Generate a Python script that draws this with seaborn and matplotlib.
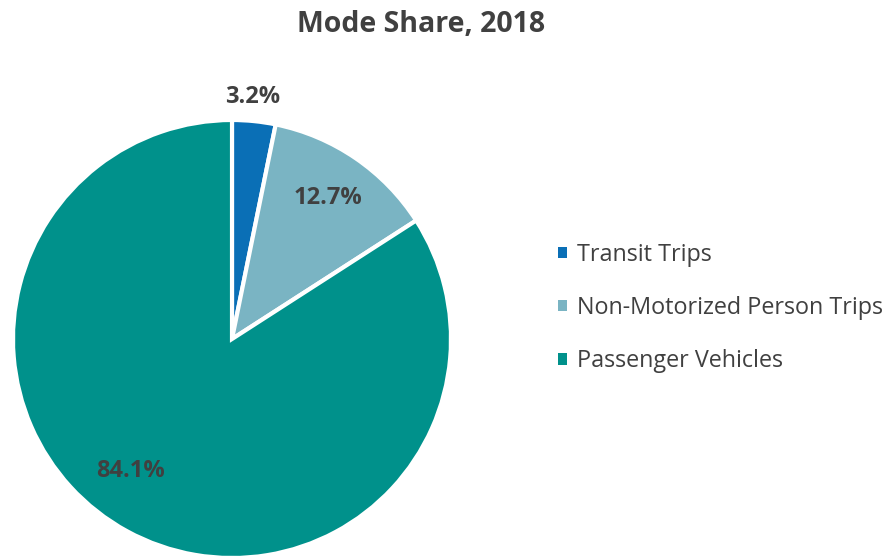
import numpy as np
import seaborn as sns
import matplotlib.pyplot as plt

# data
modes = ["Transit Trips", "Non-Motorized Person Trips", "Passenger Vehicles"]
shares = [3.2, 12.7, 84.1]
colors = ["#0a6fb6", "#7ab4c3", "#00918b"]
# label placement: radius (fraction of pie) and small angle nudge in degrees
label_radius = [1.11, 0.78, 0.76]
label_nudge = [1.0, 0.0, -9.0]

sns.set_theme(style="white")
plt.rcParams["font.family"] = ["Open Sans", "DejaVu Sans"]
text_color = "#404040"

fig = plt.figure(figsize=(8.91, 5.57), dpi=100)
W, H = 891, 557
cx, cy, r = 232, 339, 219
ax = fig.add_axes([(cx - r) / W, (H - cy - r) / H, 2 * r / W, 2 * r / H])

wedges, _ = ax.pie(shares, colors=colors, startangle=90, counterclock=False,
                   radius=1, wedgeprops=dict(edgecolor="white", linewidth=3))
ax.set_xlim(-1, 1)
ax.set_ylim(-1, 1)
ax.set_aspect("equal")
ax.axis("off")

for w, s, rr, nd in zip(wedges, shares, label_radius, label_nudge):
    ang = np.deg2rad((w.theta1 + w.theta2) / 2 + nd)
    ax.text(rr * np.cos(ang), rr * np.sin(ang), f"{s}%", ha="center", va="center",
            fontsize=17, fontweight="bold", color=text_color)

fig.text(421 / W, 1 - 24 / H, "Mode Share, 2018", ha="center", va="center",
         fontsize=20.5, fontweight="bold", color=text_color)

leg = fig.legend(wedges, modes, loc="center left", bbox_to_anchor=(546 / W, 1 - 308 / H),
                 frameon=False, fontsize=16.8, handlelength=0.38, handleheight=0.38,
                 handletextpad=0.45, labelspacing=1.25, borderpad=0)
for t in leg.get_texts():
    t.set_color(text_color)
for h in leg.legend_handles:
    h.set_edgecolor("none")

fig.savefig("out.png", dpi=100)
